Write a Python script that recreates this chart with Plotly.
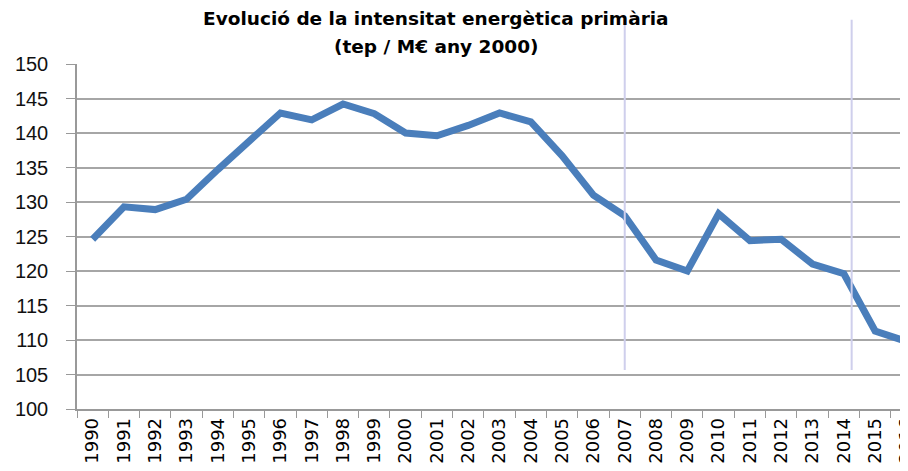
import plotly.graph_objects as go

years = [str(y) for y in range(1990, 2017)]
intensity = [124.6, 129.3, 128.9, 130.4, 134.7, 138.7, 142.9, 141.9, 144.2, 142.8,
             140.0, 139.6, 141.1, 142.9, 141.6, 136.7, 131.0, 128.0, 121.6, 120.0,
             128.3, 124.4, 124.6, 121.0, 119.6, 111.3, 109.8]
marker_positions = [17.0, 24.25]  # vertical reference lines (category units)
y_ticks = list(range(100, 151, 5))

title_lines = ["Evolució de la intensitat energètica primària", "(tep / M€ any 2000)"]

# page body adds an 8px offset, so margins are shifted to compensate
fig = go.Figure()
fig.add_trace(go.Scatter(
    x=years, y=intensity, mode="lines",
    line=dict(color="#4a7ebb", width=7),
    showlegend=False, cliponaxis=False,
))

for xv in marker_positions:
    fig.add_shape(type="line", xref="x", yref="paper",
                  x0=xv, x1=xv, y0=0.113, y1=1.128,
                  line=dict(color="#cfcfec", width=2), layer="above")

for i, line in enumerate(title_lines):
    fig.add_annotation(
        text="<b>" + line + "</b>",
        xref="paper", yref="paper", x=(436 - 77) / 831,
        y=1.0 + (46 - 28 * i) / 345,
        xanchor="center", yanchor="middle", showarrow=False,
        font=dict(family="DejaVu Sans", size=18.5, color="#000"),
    )

fig.update_layout(
    width=908, height=471,
    margin=dict(l=69, r=8, t=56, b=70, autoexpand=False),
    plot_bgcolor="white", paper_bgcolor="white",
    xaxis=dict(
        type="category", range=[-0.5, 26.05], automargin=False,
        tickson="boundaries", ticks="outside", ticklen=7, tickcolor="#999",
        tickangle=-90, showgrid=False,
        showline=True, linecolor="#999", linewidth=1.5,
        tickfont=dict(family="DejaVu Sans", size=18, color="#000"),
    ),
    yaxis=dict(
        range=[100, 150], tickvals=y_ticks, automargin=False,
        ticks="outside", ticklen=9, tickcolor="#999",
        showgrid=True, gridcolor="#a6a6a6", gridwidth=1.5,
        showline=True, linecolor="#999", linewidth=1.5,
        zeroline=False, ticklabelstandoff=14,
        tickfont=dict(family="Liberation Sans", size=20, color="#111"),
    ),
)

fig.write_html("out.html")
